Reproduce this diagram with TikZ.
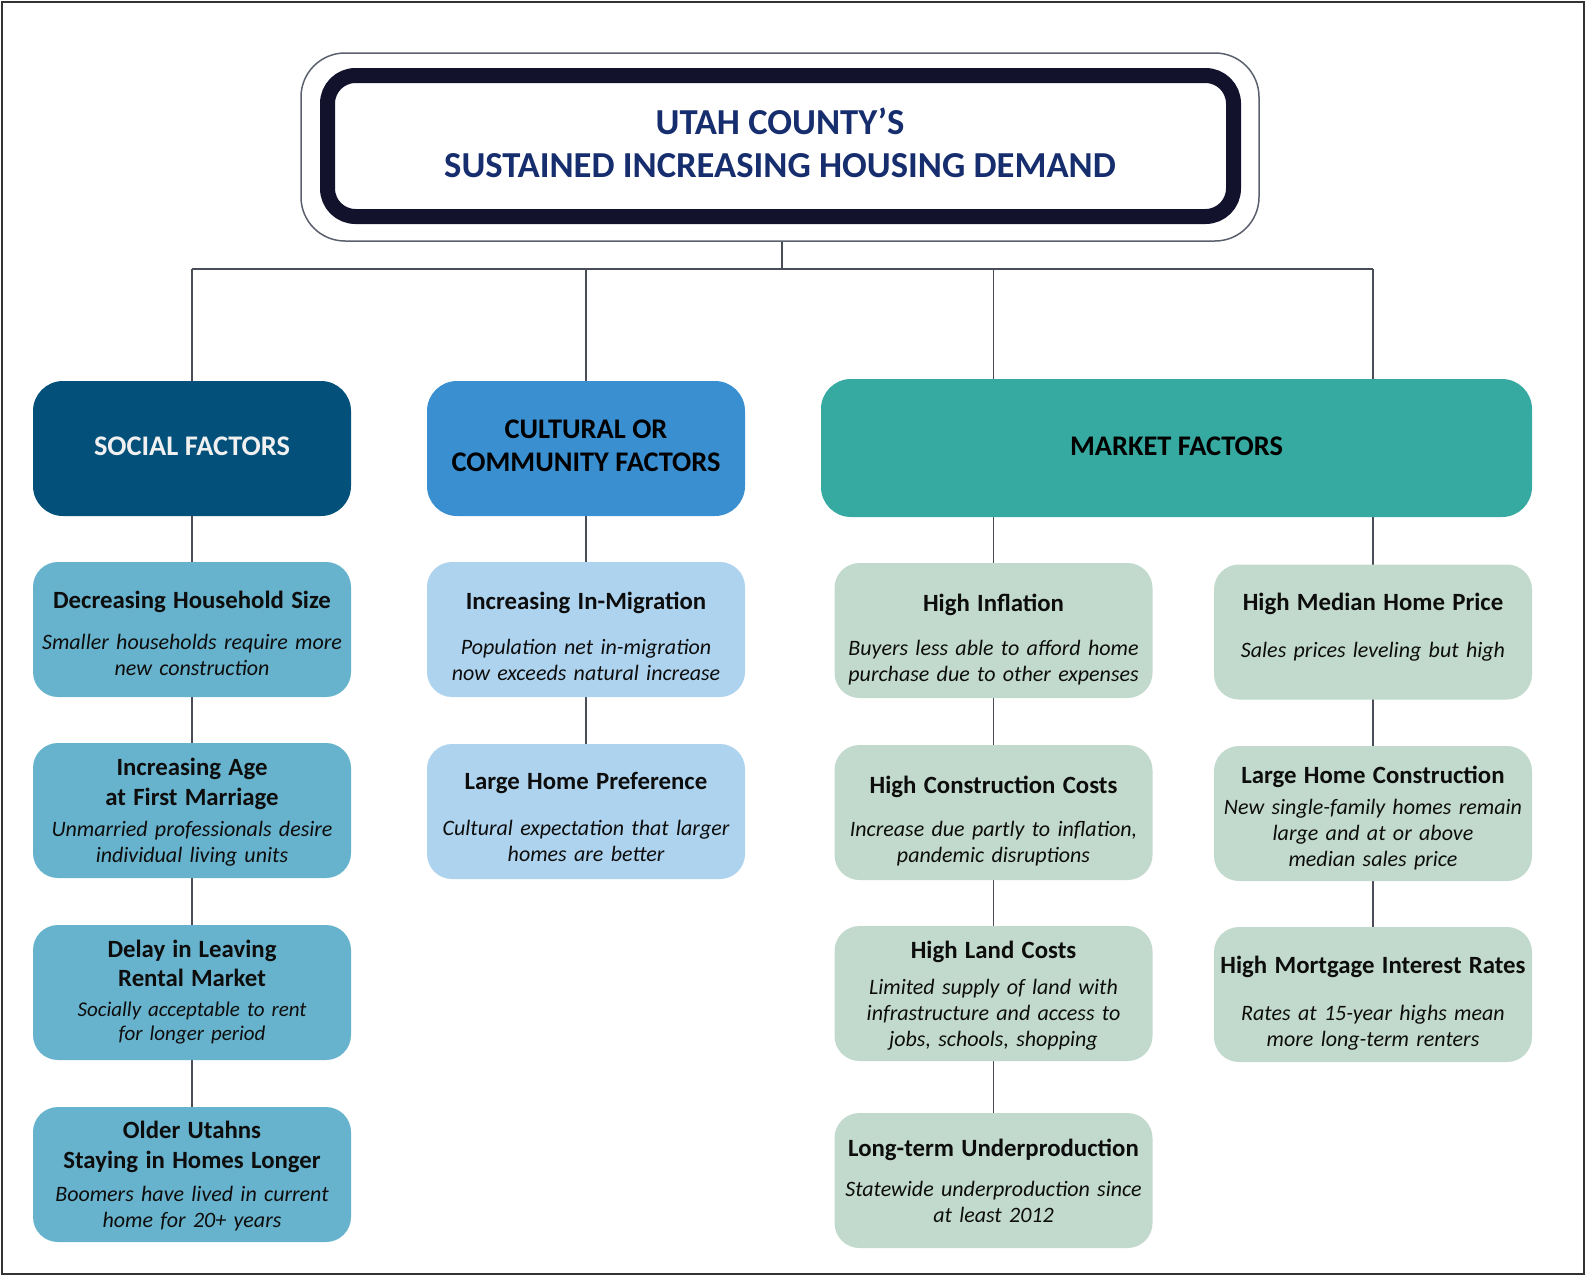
\documentclass[tikz,border=0pt]{standalone}
\usepackage{fontspec}
\setmainfont{Carlito}
\usetikzlibrary{backgrounds}
\definecolor{socdark}{RGB}{3,80,122}
\definecolor{culmid}{RGB}{58,143,208}
\definecolor{mktmid}{RGB}{54,169,161}
\definecolor{socsub}{RGB}{103,178,204}
\definecolor{culsub}{RGB}{174,211,238}
\definecolor{mktsub}{RGB}{194,218,205}
\definecolor{linec}{RGB}{72,77,88}
\definecolor{titletext}{RGB}{22,45,110}
\definecolor{titleborder}{RGB}{19,18,44}
\definecolor{framegray}{RGB}{90,96,108}
\definecolor{socfont}{RGB}{240,240,240}
\newcommand{\bx}[3]{{\fontsize{12.4}{15}\selectfont\bfseries #2}\\[#1]{\itshape #3}}
\begin{document}
\begin{tikzpicture}[x=0.5pt,y=-0.5pt,
  conn/.style={draw=linec, line width=0.8pt},
  cat/.style={rounded corners=15pt, minimum width=159pt, minimum height=67.5pt, inner sep=0pt},
  cattext/.style={inner sep=0pt, align=center, font=\fontsize{14.2}{16.5}\selectfont\bfseries},
  subbox/.style={rounded corners=12.5pt, minimum width=159pt, minimum height=67.5pt, inner sep=0pt},
  subtext/.style={inner sep=0pt, text width=156pt, align=center, font=\fontsize{11}{13}\selectfont, text=black!95}]
\useasboundingbox (0,0) rectangle (1585,1275);

% title
\node[draw=framegray, line width=0.75pt, rounded corners=22pt, minimum width=479pt, minimum height=94pt] (titleframe) at (780,147) {};
\node[draw=titleborder, fill=white, line width=7.5pt, rounded corners=14pt, minimum width=453pt, minimum height=70.5pt] (title) at (780.5,146) {};
\node[inner sep=0pt, align=center, text=titletext, font=\fontsize{18.3}{21.5}\selectfont\bfseries] (titletxt) at (780,142.5)
  {UTAH COUNTY’S\\SUSTAINED INCREASING HOUSING DEMAND};

% categories
\node[cat, fill=socdark] (soc) at (192,448.5) {};
\node[cattext, text=socfont] (soct) at (192,446.5) {SOCIAL FACTORS};
\node[cat, fill=culmid] (cul) at (586,448.5) {};
\node[cattext, text=black] (cult) at (586,445.5) {CULTURAL OR\\COMMUNITY FACTORS};
\node[cat, fill=mktmid, minimum width=355.5pt, minimum height=69pt] (mkt) at (1176.5,448) {};
\node[cattext, text=black] (mktt) at (1176.5,446) {MARKET FACTORS};

% social column
\node[subbox, fill=socsub] (s1) at (192,629.5) {};
\node[subtext] (s1t) at (192,633.5) {\bx{7.5pt}{Decreasing Household Size}{Smaller households require more\\new construction}};
\node[subbox, fill=socsub] (s2) at (192,810.5) {};
\node[subtext] (s2t) at (192,812) {\bx{2.5pt}{Increasing Age\\[2pt]at First Marriage}{Unmarried professionals desire\\individual living units}};
\node[subbox, fill=socsub] (s3) at (192,992.5) {};
\node[subtext, font=\fontsize{10.5}{12}\selectfont] (s3t) at (192,992.5) {\bx{3pt}{Delay in Leaving\\[2.5pt]Rental Market}{Socially acceptable to rent\\for longer period}};
\node[subbox, fill=socsub] (s4) at (192,1174.5) {};
\node[subtext] (s4t) at (192,1176.5) {\bx{3.5pt}{Older Utahns\\[2pt]Staying in Homes Longer}{Boomers have lived in current\\home for 20+ years}};

% cultural column
\node[subbox, fill=culsub] (c1) at (586,629.5) {};
\node[subtext] (c1t) at (586,636) {\bx{9.5pt}{Increasing In-Migration}{Population net in-migration\\now exceeds natural increase}};
\node[subbox, fill=culsub] (c2) at (586,811.5) {};
\node[subtext] (c2t) at (586,817) {\bx{10pt}{Large Home Preference}{Cultural expectation that larger\\homes are better}};

% market column 1
\node[subbox, fill=mktsub] (m1) at (993.5,630.5) {};
\node[subtext] (m1t) at (993.5,640) {\bx{9pt}{High Inflation}{Buyers less able to afford home\\purchase due to other expenses}};
\node[subbox, fill=mktsub] (m2) at (993.5,812.5) {};
\node[subtext] (m2t) at (993.5,821) {\bx{8.5pt}{High Construction Costs}{Increase due partly to inflation,\\pandemic disruptions}};
\node[subbox, fill=mktsub] (m3) at (993.5,993.5) {};
\node[subtext] (m3t) at (993.5,995.5) {\bx{5pt}{High Land Costs}{Limited supply of land with\\infrastructure and access to\\jobs, schools, shopping}};
\node[subbox, fill=mktsub] (m4) at (993.5,1180.5) {};
\node[subtext] (m4t) at (993.5,1180.5) {\bx{7pt}{Long-term Underproduction}{Statewide underproduction since\\at least 2012}};

% market column 2
\node[subbox, fill=mktsub] (n1) at (1373,632) {};
\node[subtext] (n1t) at (1373,627.5) {\bx{10.5pt}{High Median Home Price}{Sales prices leveling but high}};
\node[subbox, fill=mktsub] (n2) at (1373,813.5) {};
\node[subtext] (n2t) at (1373,818.5) {\bx{2.5pt}{Large Home Construction}{New single-family homes remain\\large and at or above\\median sales price}};
\node[subbox, fill=mktsub] (n3) at (1373,994.5) {};
\node[subtext] (n3t) at (1373,1003) {\bx{10.5pt}{High Mortgage Interest Rates}{Rates at 15-year highs mean\\more long-term renters}};

\coordinate (bus) at (782,269);

\begin{pgfonlayer}{background}
  \draw[conn] (titleframe.south -| bus) -- (bus);
  \draw[conn] (soc.north |- bus) -- (n1.north |- bus);
  \draw[conn] (s4) -- (soc.north |- bus);
  \draw[conn] (c2) -- (cul.north |- bus);
  \draw[conn] (m4) -- (m1.north |- bus);
  \draw[conn] (n3) -- (n1.north |- bus);
\end{pgfonlayer}

% outer frame
\draw[line width=1pt, black!80] (1.5,1.5) rectangle (1583.5,1273.5);
\end{tikzpicture}
\end{document}
